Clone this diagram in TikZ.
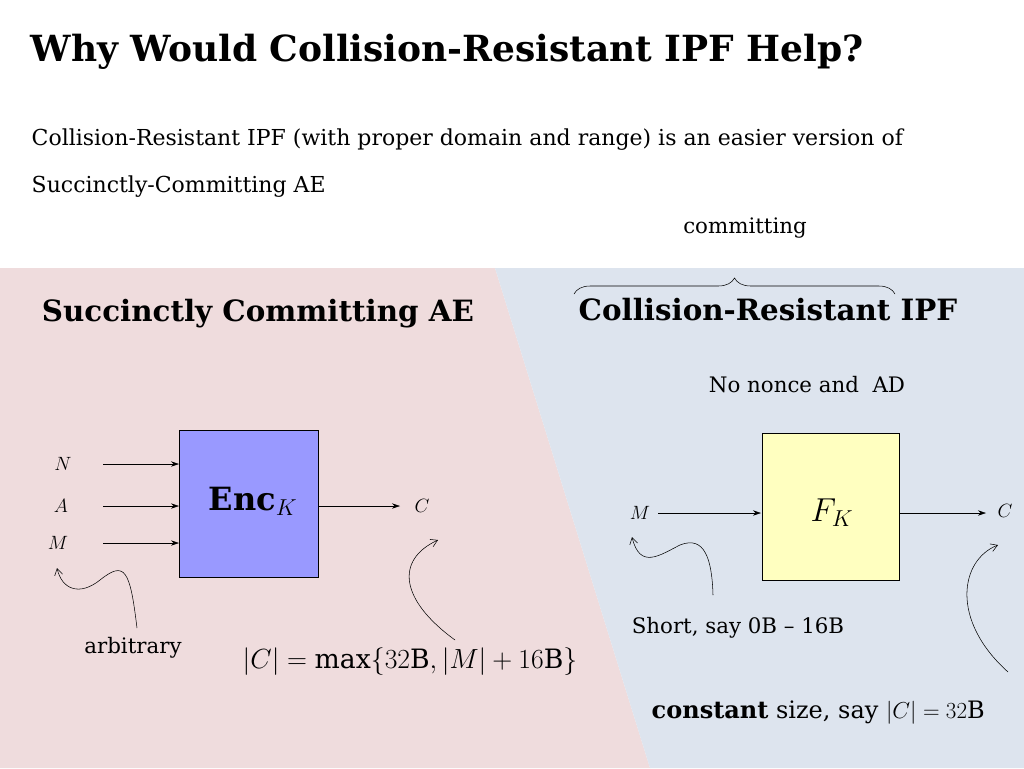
\documentclass[tikz,border=0pt]{standalone}
\usepackage{fontspec}
\setmainfont{DejaVu Serif}
\usepackage{amsmath}
\usetikzlibrary{arrows.meta,decorations.pathreplacing}
\begin{document}
\begin{tikzpicture}[x=0.75pt,y=-0.75pt,
  arr/.style={-{Stealth[length=6pt,width=4pt]},thin},
  curv/.style={-{Straight Barb[length=5pt,width=6pt]},thin},
  lab/.style={font=\fontsize{16}{20}\selectfont},
  mlab/.style={font=\fontsize{15}{18}\selectfont}]
\useasboundingbox (0,0) rectangle (1024,768);
\fill[white] (0,0) rectangle (1024,768);
\fill[fill={rgb,255:red,239;green,220;blue,221}] (0,268) -- (495,268) -- (650,768) -- (0,768) -- cycle;
\fill[fill={rgb,255:red,221;green,228;blue,238}] (495,268) -- (1024,268) -- (1024,768) -- (650,768) -- cycle;

\node[anchor=west,font=\fontsize{27}{32}\selectfont\bfseries] (title) at (26,52) {Why Would Collision-Resistant IPF Help?};
\node[anchor=west,font=\fontsize{16.5}{20}\selectfont] (s1) at (27,140) {Collision-Resistant IPF (with proper domain and range) is an easier version of};
\node[anchor=west,font=\fontsize{16.5}{20}\selectfont] (s2) at (27,187) {Succinctly-Committing AE};
\node[font=\fontsize{16}{20}\selectfont] (comm) at (745,228) {committing};
\draw[decorate,decoration={brace,amplitude=12pt}] (574,294) -- (895,294);

\node[font=\fontsize{22}{26}\selectfont\bfseries] (h1) at (258,314) {Succinctly Committing AE};
\node[font=\fontsize{22}{26}\selectfont\bfseries] (h2) at (768,310) {Collision-Resistant IPF};
\node[lab] (nn) at (807,385) {No nonce and\ \ AD};

\node[draw,fill={rgb,255:red,153;green,153;blue,255},minimum width=104pt,minimum height=110pt] (enc) at (249,503.5) {};
\node (enct) at (253,501) {\fontsize{24}{28}\selectfont\textbf{Enc}$_{K}$};
\node[draw,fill={rgb,255:red,255;green,255;blue,192},minimum width=103pt,minimum height=110pt] (f) at (830.5,506.5) {};
\node (ft) at (832,513) {\fontsize{26}{30}\selectfont$F_K$};

\node[mlab] (N) at (63,464) {$N$};
\node[mlab] (A) at (61,506) {$A$};
\node[mlab] (M) at (58,543) {$M$};
\node[mlab] (C) at (422,506) {$C$};
\coordinate (n1) at (103,464); \coordinate (n2) at (179,464);
\coordinate (a1) at (103,506); \coordinate (a2) at (179,506);
\coordinate (m1) at (103,543); \coordinate (m2) at (179,543);
\draw[arr] (n1) -- (n2);
\draw[arr] (a1) -- (a2);
\draw[arr] (m1) -- (m2);
\coordinate (c1) at (319,506); \coordinate (c2) at (400,506);
\draw[arr] (c1) -- (c2);

\node[mlab] (M2) at (640,513) {$M$};
\node[mlab] (C2) at (1005,511) {$C$};
\coordinate (p1) at (658,513); \coordinate (p2) at (761,513);
\coordinate (q1) at (900,513); \coordinate (q2) at (986,513);
\draw[arr] (p1) -- (p2);
\draw[arr] (q1) -- (q2);

\node[lab] (arb) at (133,648) {arbitrary};
\node[font=\fontsize{20}{24}\selectfont] (cmax) at (410,662) {$|C|=\max\{32\mathrm{B},|M|+16\mathrm{B}\}$};
\node[lab] (short) at (738,628) {Short, say 0B -- 16B};
\node[anchor=west,font=\fontsize{18}{24}\selectfont] (const) at (647,713) {\textbf{constant} size, say $|C|=32\mathrm{B}$};

\coordinate (k1) at (137,628); \coordinate (k2) at (57,568);
\draw[curv] (k1) .. controls (130,570) and (125,560) .. (100,580) .. controls (80,596) and (62,590) .. (k2);
\coordinate (l1) at (455,640); \coordinate (l2) at (438,540);
\draw[curv] (l1) .. controls (400,600) and (395,560) .. (l2);
\coordinate (r1) at (713,595); \coordinate (r2) at (632,537);
\draw[curv] (r1) .. controls (712,560) and (705,535) .. (680,545) .. controls (660,555) and (640,570) .. (r2);
\coordinate (t1) at (1008,672); \coordinate (t2) at (998,545);
\draw[curv] (t1) .. controls (950,620) and (960,560) .. (t2);
\end{tikzpicture}
\end{document}
